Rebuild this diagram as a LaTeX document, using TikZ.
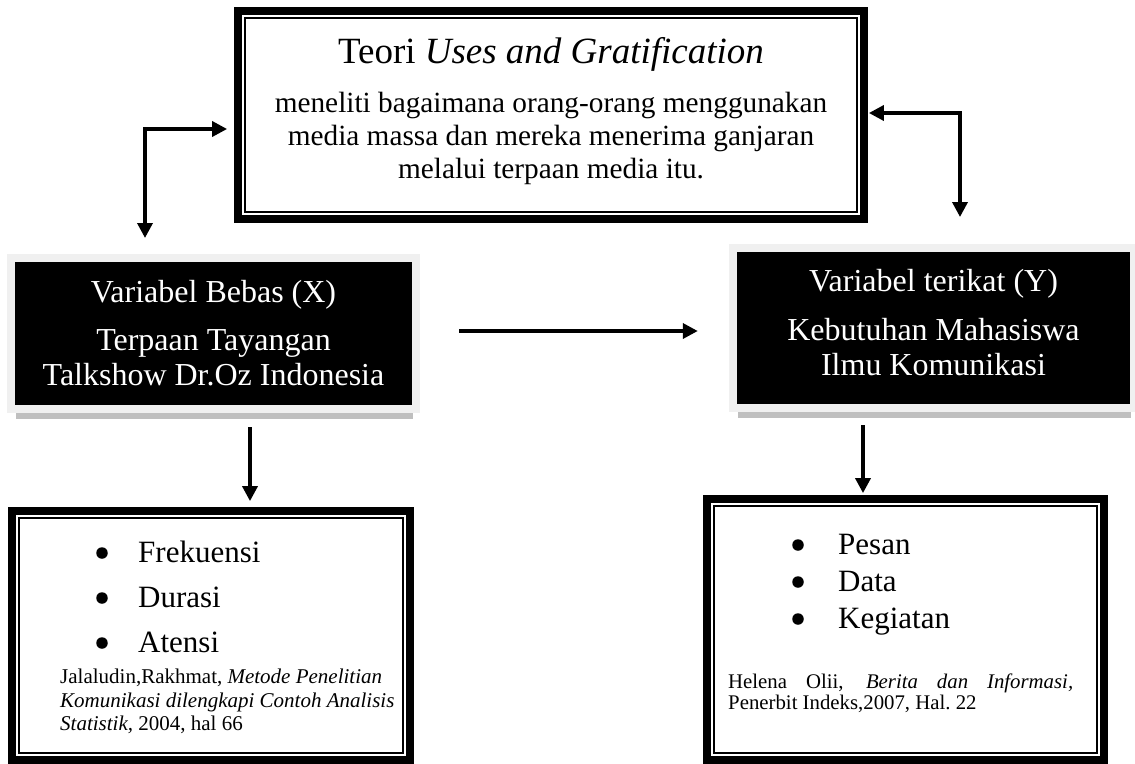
\documentclass[tikz,border=0pt]{standalone}
\usepackage{fontspec}
\setmainfont{Liberation Serif}
\usetikzlibrary{arrows.meta, positioning, calc, shadows}
\newcommand{\fsz}[2]{\fontsize{#1}{#2}\selectfont}

\begin{document}
\begin{tikzpicture}[x=1pt, y=-1pt, >={Triangle[length=15pt,width=15pt]},
    link/.style={line width=3.5pt},
    dframe/.style={draw, line width=1.8pt, fill=white, inner sep=0pt,
      preaction={draw, line width=22pt}, preaction={draw=white, line width=5.5pt}},
    varbox/.style={fill=black, text=white, inner sep=0pt, align=center, font=\fsz{32}{35},
      drop shadow={shadow xshift=1pt, shadow yshift=-14pt, fill=gray!50, opacity=1},
      preaction={draw=gray!12, line width=16pt}},
    dot/.style={circle, fill, inner sep=0pt, minimum size=11.5pt},
    itm/.style={anchor=base west, inner sep=0pt, font=\fsz{31}{36}},
    cite/.style={inner sep=0pt, anchor=north west}]

  \useasboundingbox (0,0) rectangle (1135,763);

  % teori
  \node[dframe, minimum width=612pt, minimum height=194pt, align=center, text depth=14.5pt,
        font=\fsz{29.3}{33}] (teori) at (551,115)
    {{\fsz{37}{42}Teori \textit{Uses and Gratification}}\\[16pt]
     meneliti bagaimana orang-orang menggunakan\\
     media massa dan mereka menerima ganjaran\\
     melalui terpaan media itu.};

  % variabel
  \node[varbox, minimum width=397pt, minimum height=143pt] (bebas) at (213.5,333.5)
    {Variabel Bebas (X)\\[13pt] Terpaan Tayangan\\ Talkshow Dr.Oz Indonesia};
  \node[varbox, minimum width=393pt, minimum height=152pt, text depth=12pt] (terikat) at (933.5,328)
    {Variabel terikat (Y)\\[14pt] Kebutuhan Mahasiswa\\ Ilmu Komunikasi};

  % indikator
  \node[dframe, minimum width=384pt, minimum height=235pt] (indX) at (211,635.5) {};
  \node[dframe, minimum width=383pt, minimum height=247pt] (indY) at (905.5,629.5) {};

  \foreach \i/\t/\y in {1/Frekuensi/553, 2/Durasi/598, 3/Atensi/643}{
    \node[dot] (xb\i) at (102,\y) {};
    \node[itm] (xt\i) at (138,\y+9) {\t};
  }
  \foreach \i/\t/\y in {1/Pesan/545, 2/Data/582, 3/Kegiatan/619}{
    \node[dot] (yb\i) at (798,\y) {};
    \node[itm] (yt\i) at (838,\y+9) {\t};
  }

  \node[cite, align=left, font=\fsz{21}{23.5}] (xsrc) at (60,669)
    {Jalaludin,Rakhmat, \textit{Metode Penelitian}\\
     \textit{Komunikasi dilengkapi Contoh Analisis}\\
     \textit{Statistik,} 2004, hal 66};
  \node[cite, text width=345pt, align=justify, font=\fsz{20.8}{20.5}] (ysrc) at (728,674)
    {Helena Olii, \textit{Berita dan Informasi,}\linebreak Penerbit Indeks,2007, Hal.\ 22};

  % panah
  \coordinate (lfree) at (145,238);
  \coordinate (rfree) at (960,217);
  \draw[link, <->, shorten >=17pt] (lfree) |- ([yshift=-14pt]teori.west);
  \draw[link, <->, shorten >=11pt] (rfree) |- ([yshift=2pt]teori.east);
  \draw[link, ->] ([shift={(47pt,2.5pt)}]bebas.east) -- ([shift={(-39pt,-3pt)}]terikat.west);
  \draw[link, ->, shorten >=16pt] ([shift={(36.5pt,-22pt)}]bebas.south) coordinate (xa) -- (xa |- indX.north);
  \draw[link, ->, shorten >=12pt] ([shift={(-70.5pt,-21pt)}]terikat.south) coordinate (ya) -- (ya |- indY.north);
\end{tikzpicture}
\end{document}
